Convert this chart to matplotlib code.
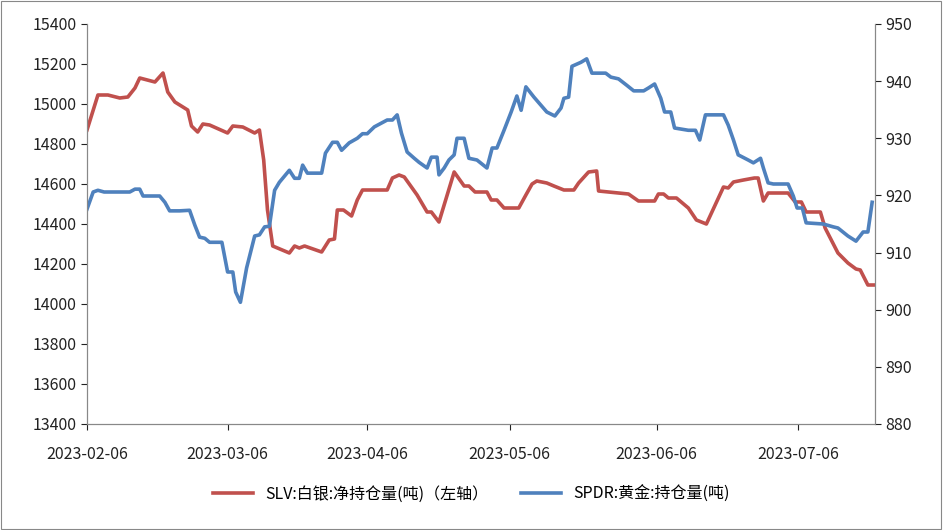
import matplotlib
matplotlib.use("Agg")
import matplotlib.pyplot as plt
from matplotlib.patches import Rectangle

plt.rcParams["font.family"] = ["Noto Sans CJK SC", "DejaVu Sans"]

# x = days offset on the chart's date axis (start 2023-02-06)
slv_x = [0, 2.3, 4.4, 6.9, 8.6, 10.1, 11.1, 14.3, 16, 17, 18.5, 21.2, 22, 23.3, 24.4, 25.8,
         29.6, 30.7, 32.8, 35.3, 36.3, 37.2, 38, 39.1, 42.6, 43.7, 44.7, 45.8, 49.4, 51,
         52.1, 52.7, 54, 55.7, 56.9, 58, 63.2, 64.3, 65.7, 66.8, 69.5, 71.6, 72.5, 74.1,
         77.3, 79.4, 80.4, 81.7, 84.2, 85.1, 86.3, 87.8, 90.9, 92.4, 93.7, 94.7, 96.8, 98.3,
         100.4, 102.5, 103.5, 105.6, 107.3, 107.7, 114, 116.1, 119.5, 120.3, 121.4, 122.4,
         124.1, 126.6, 128.3, 130.4, 134, 135, 136.1, 138.2, 140.5, 141.3, 142.4, 143.4,
         147.6, 149.1, 150.4, 151.4, 154.4, 155.4, 158.1, 160.2, 161.9, 162.8, 164.4, 165.9]
slv_y = [14870, 15045, 15045, 15030, 15035, 15080, 15130, 15110, 15155, 15060, 15010, 14970,
         14890, 14860, 14900, 14895, 14855, 14890, 14885, 14855, 14870, 14720, 14470, 14290,
         14255, 14290, 14280, 14290, 14260, 14320, 14325, 14470, 14470, 14440, 14520, 14570,
         14570, 14630, 14645, 14635, 14545, 14460, 14460, 14410, 14660, 14590, 14590, 14560,
         14560, 14520, 14520, 14480, 14480, 14545, 14600, 14615, 14605, 14590, 14570, 14570,
         14605, 14660, 14665, 14565, 14550, 14515, 14515, 14550, 14550, 14530, 14530, 14480,
         14420, 14400, 14585, 14580, 14610, 14620, 14630, 14630, 14515, 14555, 14555, 14510,
         14510, 14460, 14460, 14380, 14255, 14205, 14175, 14170, 14095, 14095]

spdr_x = [0, 1.3, 2.3, 3.6, 9, 10.1, 11.1, 11.8, 15.3, 16.4, 17.4, 19.5, 21.6, 22.7, 23.7,
          24.8, 25.8, 28.4, 29.6, 30.7, 31.3, 32.3, 33.6, 35.3, 36.3, 37.4, 38.4, 39.5,
          40.5, 42.6, 43.7, 44.7, 45.4, 46.4, 49.4, 50.2, 51.7, 52.7, 53.6, 55.2, 56.9, 58,
          59, 60.5, 63.2, 64.3, 65.3, 66.2, 67.4, 68.9, 69.9, 71.6, 72.5, 73.7, 74.1, 75.2,
          76.2, 77.3, 77.9, 79.4, 80.4, 82.1, 84.2, 85.3, 86.3, 87.8, 89.3, 90.5, 91.4, 92.4,
          94.1, 96.8, 98.5, 99.8, 100.4, 101.4, 102.1, 104, 105.2, 106.3, 109.2, 110.3,
          111.9, 113.6, 115.1, 117.2, 118.2, 119.5, 120.8, 121.6, 122.9, 123.7, 126.6, 128.1,
          129, 130.2, 134, 135, 136.1, 137.1, 139.2, 140.3, 141.8, 142.4, 143.4, 144.5, 147.6,
          148.7, 149.5, 150.6, 151.4, 155, 157.1, 158.1, 160.2, 161.9, 163.4, 164.4, 165.3]
spdr_y = [917.6, 920.6, 920.9, 920.6, 920.6, 921.1, 921.1, 919.9, 919.9, 918.8, 917.3, 917.3,
          917.4, 914.8, 912.7, 912.5, 911.8, 911.8, 906.6, 906.6, 903.1, 901.3, 907.3, 912.9,
          913.1, 914.5, 914.6, 920.9, 922.3, 924.4, 923.0, 923.0, 925.3, 923.9, 923.9, 927.4,
          929.3, 929.3, 927.9, 929.2, 930.0, 930.8, 930.8, 932.0, 933.2, 933.2, 934.1, 930.9,
          927.6, 926.5, 925.8, 924.8, 926.7, 926.7, 923.6, 924.8, 926.2, 927.1, 930.0, 930.0,
          926.5, 926.2, 924.8, 928.3, 928.3, 931.4, 934.6, 937.4, 934.9, 939.0, 937.2, 934.6,
          933.9, 935.3, 937.0, 937.2, 942.6, 943.3, 943.9, 941.4, 941.4, 940.7, 940.4, 939.3,
          938.3, 938.3, 938.8, 939.5, 937.0, 934.6, 934.6, 931.8, 931.4, 931.4, 929.7, 934.1,
          934.1, 932.3, 929.7, 927.1, 926.2, 925.7, 926.5, 924.8, 922.2, 922.0, 922.0, 919.9,
          917.8, 917.8, 915.2, 915.0, 914.5, 914.3, 912.9, 912.0, 913.6, 913.6, 918.8]

tick_pos = [0, 29.6, 59, 89, 119.9, 149.7]
tick_labels = ["2023-02-06", "2023-03-06", "2023-04-06", "2023-05-06", "2023-06-06", "2023-07-06"]

red = "#c0504d"
blue = "#4f81bd"

fig = plt.figure(figsize=(9.43, 5.30), dpi=100)
fig.patches.append(Rectangle((0.001, 0.002), 0.997, 0.996, transform=fig.transFigure,
                             fill=False, edgecolor="#888888", lw=0.8))
ax = fig.add_axes([87 / 943, 1 - 424 / 530, (875 - 87) / 943, 400 / 530])
ax2 = ax.twinx()

l1, = ax.plot(slv_x, slv_y, color=red, lw=2.6, label="SLV:白银:净持仓量(吨)（左轴）")
l2, = ax2.plot(spdr_x, spdr_y, color=blue, lw=2.6, label="SPDR:黄金:持仓量(吨)")

ax.set_xlim(0, 165.9)
ax.set_ylim(13400, 15400)
ax.set_yticks(range(13400, 15401, 200))
ax2.set_ylim(880, 950)
ax2.set_yticks(range(880, 951, 10))
ax.set_xticks(tick_pos)
ax.set_xticklabels(tick_labels)

for a in (ax, ax2):
    a.tick_params(labelsize=11.5, colors="#222222", length=4, direction="out")
    a.spines["top"].set_visible(False)
    for s in ("left", "right", "bottom"):
        a.spines[s].set_color("#888888")
ax.tick_params(axis="x", pad=12)

fig.legend(handles=[l1, l2], loc="lower center", bbox_to_anchor=(0.5, 0.025), ncol=2,
           frameon=False, fontsize=11.5, handlelength=2.5, columnspacing=2)

fig.savefig("out.png", dpi=100)
